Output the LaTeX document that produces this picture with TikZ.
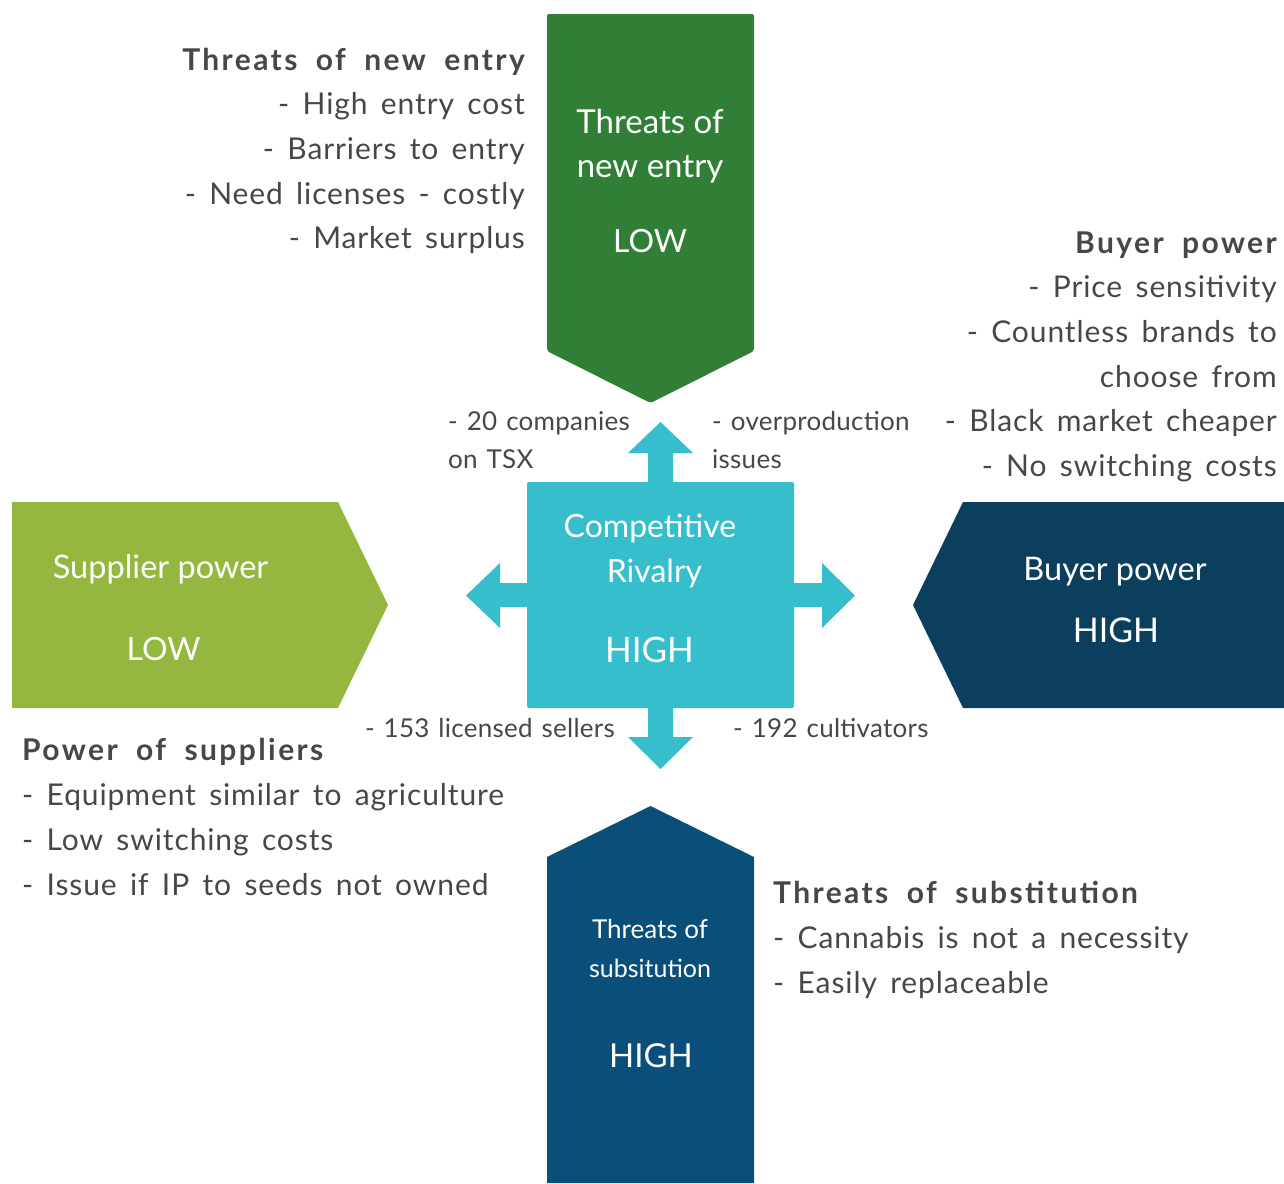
\documentclass[tikz,border=0pt]{standalone}
\usepackage{fontspec}
\setmainfont{Lato}
\newfontfamily\bodyfont{Lato}[LetterSpace=3,WordSpace=1.55]
\newfontfamily\headfont{Lato}[LetterSpace=8,WordSpace=1.9]
\newfontfamily\smallfont{Lato}[LetterSpace=1,WordSpace=1.3]
\definecolor{topgreen}{HTML}{317F36}
\definecolor{leftgreen}{HTML}{94B83F}
\definecolor{navyR}{HTML}{0C3F5E}
\definecolor{navyB}{HTML}{0A4F79}
\definecolor{cyanc}{HTML}{37BECC}
\definecolor{txtgrey}{HTML}{474747}
\begin{document}
\begin{tikzpicture}[x=1pt,y=-1pt,
  boxtxt/.style={text=white,inner sep=0pt,anchor=base,font=\fontsize{33}{36}\selectfont},
  bodytxt/.style={text=txtgrey,inner sep=0pt,font=\bodyfont\fontsize{30}{36}\selectfont},
  headtxt/.style={text=txtgrey,inner sep=0pt,font=\headfont\bfseries\fontsize{30}{36}\selectfont},
  smalltxt/.style={text=txtgrey,inner sep=0pt,font=\smallfont\fontsize{26}{30}\selectfont}]
\useasboundingbox (0,0) rectangle (1284,1183);
% five forces shapes
\fill[topgreen,rounded corners=2pt] (547,14) -- (754,14) -- (754,351) -- (650.5,403) -- (547,351) -- cycle;
\fill[leftgreen] (12,502) -- (338,502) -- (388,605) -- (338,708) -- (12,708) -- cycle;
\fill[navyR] (1284,502) -- (963,502) -- (913,605) -- (963,708) -- (1284,708) -- cycle;
\fill[navyB] (547,1183) -- (547,857) -- (650.5,806) -- (754,857) -- (754,1183) -- cycle;
% centre with four arrows
\fill[cyanc,rounded corners=2pt] (527,482) rectangle (794,708);
\fill[cyanc] (648,484) -- (648,453) -- (628,453) -- (660.5,422) -- (693,453) -- (673,453) -- (673,484) -- cycle;
\fill[cyanc] (648,706) -- (648,737) -- (628,737) -- (660.5,769) -- (693,737) -- (673,737) -- (673,706) -- cycle;
\fill[cyanc] (529,583) -- (500,583) -- (500,563) -- (466,595.5) -- (500,628) -- (500,607) -- (529,607) -- cycle;
\fill[cyanc] (792,583) -- (822,583) -- (822,563) -- (855,595.5) -- (822,628) -- (822,607) -- (792,607) -- cycle;
% box labels
\node[boxtxt] (tg1) at (650,133) {Threats of};
\node[boxtxt] (tg2) at (650,177) {new entry};
\node[boxtxt,font=\fontsize{32}{36}\selectfont] (tg3) at (650,252) {LOW};
\node[boxtxt,font=\fontsize{32.5}{36}\selectfont] (lg1) at (160.5,578) {Supplier power};
\node[boxtxt,font=\fontsize{32}{36}\selectfont] (lg2) at (163.5,660) {LOW};
\node[boxtxt,font=\fontsize{32.5}{36}\selectfont] (rn1) at (1115,580) {Buyer power};
\node[boxtxt,font=\fontsize{34}{36}\selectfont] (rn2) at (1116,642) {HIGH};
\node[boxtxt,font=\fontsize{26}{30}\selectfont] (bn1) at (650,938) {Threats of};
\node[boxtxt,font=\fontsize{25}{30}\selectfont] (bn2) at (650,977) {subsitution};
\node[boxtxt,font=\fontsize{33}{36}\selectfont] (bn3) at (651,1067) {HIGH};
\node[boxtxt,font=\fontsize{32}{36}\selectfont] (cc1) at (650,537) {Competitive};
\node[boxtxt,font=\fontsize{32}{36}\selectfont] (cc2) at (654.5,582) {Rivalry};
\node[boxtxt,font=\fontsize{35}{40}\selectfont] (cc3) at (649.5,662) {HIGH};
% small labels round the centre
\node[smalltxt,anchor=base west] (s1) at (448,430) {- 20 companies};
\node[smalltxt,anchor=base west] (s2) at (448,468) {on TSX};
\node[smalltxt,anchor=base west] (s3) at (712,430) {- overproduction};
\node[smalltxt,anchor=base west] (s4) at (712,468) {issues};
\node[smalltxt,anchor=base east] (s5) at (615,737) {- 153 licensed sellers};
\node[smalltxt,anchor=base west] (s6) at (733,737) {- 192 cultivators};
% text blocks
\node[headtxt,anchor=base east] (a0) at (525,70) {Threats of new entry};
\foreach \t [count=\i] in {- High entry cost,- Barriers to entry,- Need licenses - costly,- Market surplus}
  \node[bodytxt,anchor=base east] (a\i) at (525,70+44.7*\i) {\t};
\node[headtxt,anchor=base east] (b0) at (1277,253) {Buyer power};
\foreach \t [count=\i] in {- Price sensitivity,- Countless brands to,choose from,- Black market cheaper,- No switching costs}
  \node[bodytxt,anchor=base east] (b\i) at (1277,253+44.7*\i) {\t};
\node[headtxt,anchor=base west] (c0) at (22,760) {Power of suppliers};
\foreach \t [count=\i] in {- Equipment similar to agriculture,- Low switching costs,- Issue if IP to seeds not owned}
  \node[bodytxt,anchor=base west] (c\i) at (22,760+45*\i) {\t};
\node[headtxt,anchor=base west] (d0) at (773,903) {Threats of substitution};
\foreach \t [count=\i] in {- Cannabis is not a necessity,- Easily replaceable}
  \node[bodytxt,anchor=base west] (d\i) at (773,903+45*\i) {\t};
\end{tikzpicture}
\end{document}
